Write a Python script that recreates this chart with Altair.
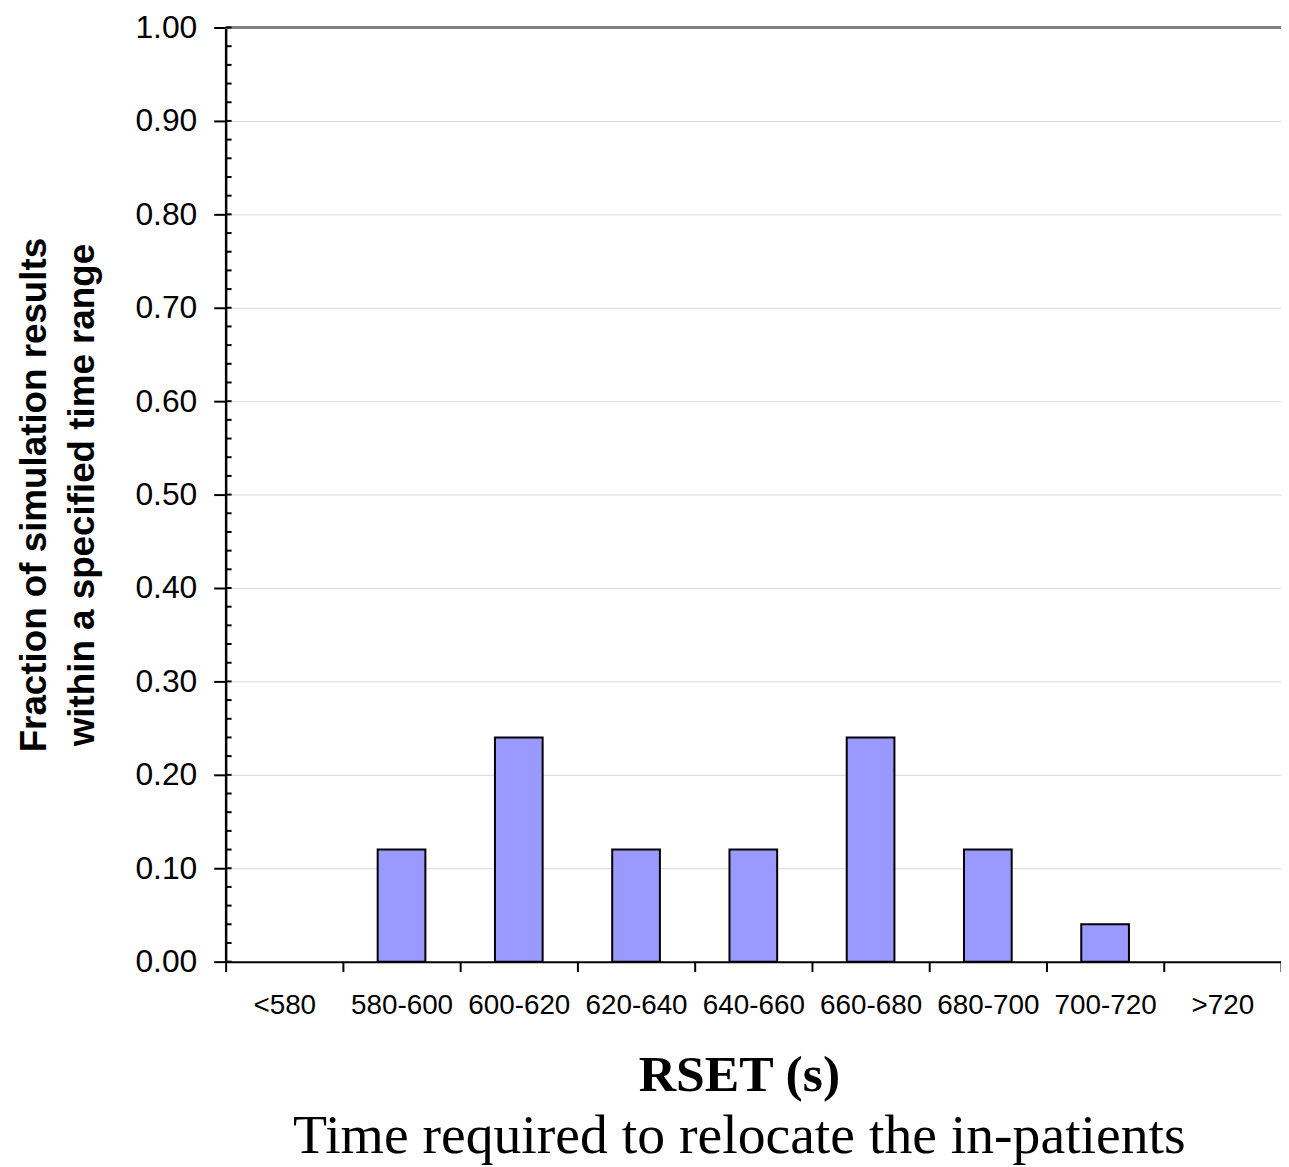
import altair as alt
import pandas as pd

categories = ["<580", "580-600", "600-620", "620-640", "640-660",
              "660-680", "680-700", "700-720", ">720"]
fractions = [0.0, 0.12, 0.24, 0.12, 0.12, 0.24, 0.12, 0.04, 0.0]
major_ticks = [0.0, 0.1, 0.2, 0.3, 0.4, 0.5, 0.6, 0.7, 0.8, 0.9, 1.0]
minor_ticks = [round(i * 0.02, 2) for i in range(51)]
top_line = [1.0]

df = pd.DataFrame({"range": categories, "fraction": fractions})
minor_df = pd.DataFrame({"v": minor_ticks})
top_df = pd.DataFrame({"v": top_line})

yscale = alt.Scale(domain=[0, 1])

bars = alt.Chart(df).transform_filter("datum.fraction > 0").mark_bar(
    size=48, color="#9999FF", stroke="black", strokeWidth=2
).encode(
    x=alt.X("range:N", sort=categories,
            scale=alt.Scale(domain=categories, paddingInner=0, paddingOuter=0),
            axis=alt.Axis(title=None, labelAngle=0, labelFont="Liberation Sans",
                          labelFontSize=28, labelColor="black", labelPadding=20,
                          tickBand="extent", tickSize=10, tickWidth=2,
                          tickColor="black", domainColor="black", domainWidth=2,
                          grid=False)),
    y=alt.Y("fraction:Q", scale=yscale,
            axis=alt.Axis(values=major_ticks, format=".2f",
                          labelFont="Liberation Sans", labelFontSize=32,
                          labelColor="black", labelPadding=17,
                          tickSize=12, tickWidth=2, tickColor="black",
                          domainColor="black", domainWidth=2.5,
                          grid=True, gridColor="#d9d9d9", gridWidth=1,
                          title=["Fraction of simulation results",
                                 "within a specified time range"],
                          titleFont="Liberation Sans", titleFontSize=37,
                          titleFontWeight="bold", titleColor="black",
                          titleLineHeight=48, titlePadding=34))
)

minor = alt.Chart(minor_df).mark_rule(color="black", strokeWidth=2).encode(
    y=alt.Y("v:Q", scale=yscale),
    x=alt.value(0), x2=alt.value(6)
)

top = alt.Chart(top_df).mark_rule(color="#808080", strokeWidth=3).encode(
    y=alt.Y("v:Q", scale=yscale)
)

chart = alt.layer(top, bars, minor).properties(
    width=1062, height=940,
    autosize=alt.AutoSizeParams(type="none"),
    padding={"left": 219, "top": 16, "right": 0, "bottom": 203},
    title=alt.TitleParams(
        text="RSET (s)",
        subtitle="Time required to relocate the in-patients",
        orient="bottom", anchor="middle", dx=-14, offset=31,
        font="Liberation Serif", fontSize=52, fontWeight="bold", color="black",
        subtitleFont="Liberation Serif", subtitleFontSize=56,
        subtitleColor="black", subtitlePadding=8
    )
).configure_view(stroke=None)

chart.save("out.html", embed_options={"renderer": "svg", "actions": False})
